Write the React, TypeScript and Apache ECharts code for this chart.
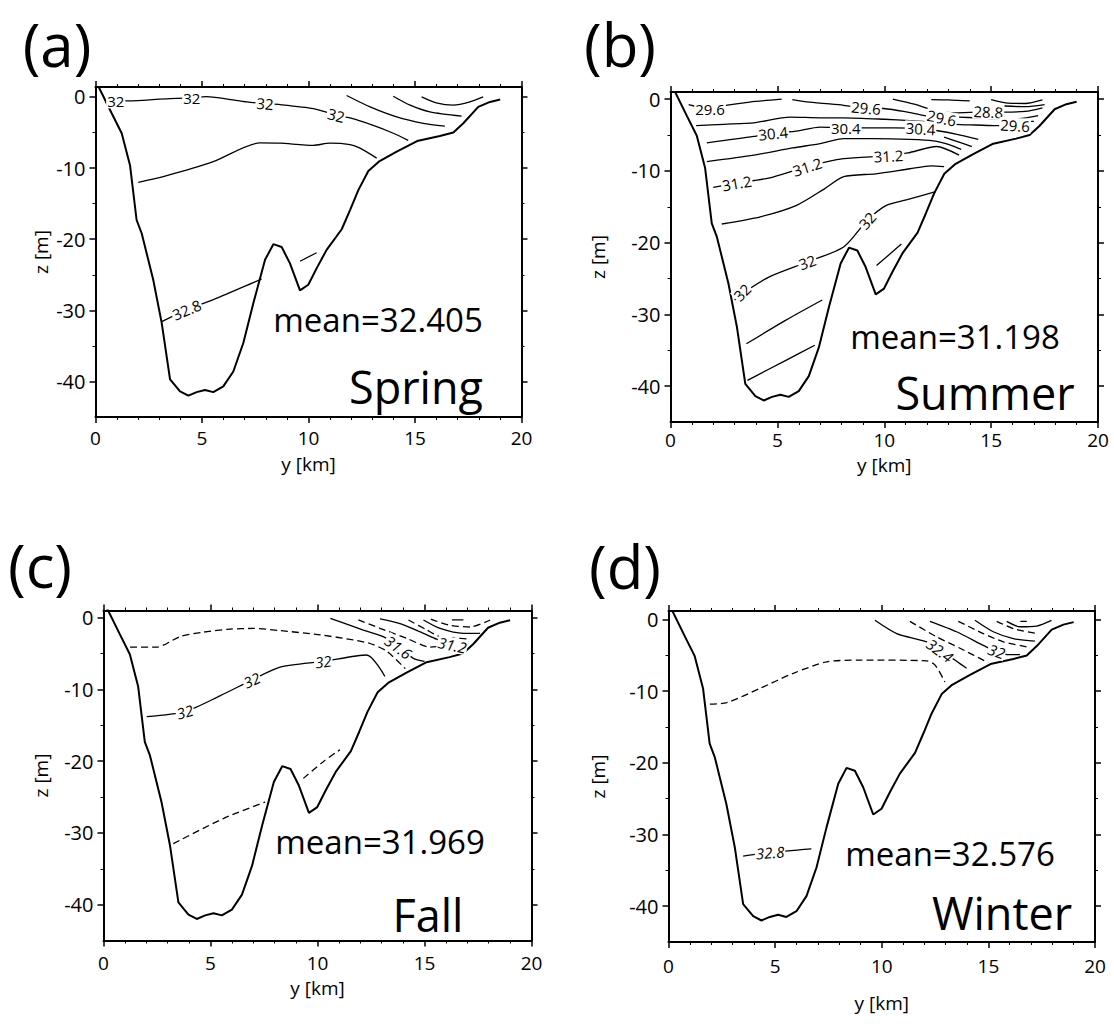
import React, { useEffect, useRef } from "react";
import * as echarts from "echarts";

const FONT = '"Open Sans", "Noto Sans", sans-serif';

// x ticks / y ticks
const xMin = 0;
const xMax = 20;
const xInterval = 5;
const yMin = -45;
const yMajorTicks = [0, -10, -20, -30, -40];
const yMinorTicks = [-5, -15, -25, -35];

const panelLetters = ["(a)", "(b)", "(c)", "(d)"];
const seasons = ["Spring", "Summer", "Fall", "Winter"];
const means = ["mean=32.405", "mean=31.198", "mean=31.969", "mean=32.576"];

// bathymetry (y [km], z [m])
const bathymetry = [
  [0.15, 1.4], [0.76, -2.3], [1.23, -5.1], [1.62, -9.6], [1.93, -17.3], [2.17, -19.2],
  [2.71, -25.7], [3.11, -31.8], [3.5, -39.7], [3.97, -41.4], [4.36, -42.0], [4.75, -41.5],
  [5.14, -41.2], [5.53, -41.5], [6.0, -40.7], [6.47, -38.6], [6.94, -34.6], [7.41, -29.0],
  [7.96, -22.9], [8.35, -20.7], [8.74, -21.1], [9.13, -23.4], [9.6, -27.2], [9.99, -26.4],
  [10.38, -24.1], [10.85, -21.5], [11.56, -18.6], [11.95, -15.9], [12.34, -13.1], [12.81, -10.4],
  [13.3, -9.1], [14.14, -7.7], [15.1, -6.2], [16.17, -5.5], [16.8, -5.0], [17.27, -3.7],
  [17.97, -1.4], [18.52, -0.7], [19.0, -0.35],
];

// (a) Spring
const springSolid = [
  [[0.7, -0.55], [1.62, -0.56], [3.0, -0.3], [3.81, -0.2], [4.5, -0.1], [5.22, 0.05], [6.2, -0.3], [7.1, -0.7], [7.96, -0.93], [8.66, -1.07], [10.23, -1.63], [11.0, -2.3], [11.4, -2.7], [11.95, -2.95], [13.04, -4.0], [13.98, -5.1], [14.68, -6.1]],
  [[11.79, 0.2], [12.89, -1.4], [14.14, -2.8], [15.39, -3.7], [16.4, -4.1]],
  [[13.98, 0.1], [14.77, -1.16], [15.7, -2.1], [17.19, -2.7]],
  [[15.31, 0.0], [16.0, -0.84], [16.8, -1.16], [17.58, -0.7], [18.2, 0.0]],
  [[2.01, -12.0], [3.18, -11.2], [5.53, -9.1], [7.72, -6.45], [8.66, -6.5], [10.23, -6.8], [11.0, -6.5], [11.95, -6.7], [12.42, -7.2], [13.2, -8.6]],
  [[3.11, -31.6], [4.28, -29.9], [5.53, -28.5], [7.57, -25.9], [7.8, -25.6]],
  [[9.6, -23.1], [10.38, -21.9]],
];
const springDashed: number[][][] = [];
const springLabels = [
  [0.95, -0.56, "32", 0], [4.52, -0.12, "32", 0], [7.96, -0.93, "32", -5], [11.3, -2.55, "32", -14], [4.28, -29.9, "32.8", 23],
];

// (b) Summer
const summerSolid = [
  [[0.85, -0.75], [1.85, -1.35], [2.5, -0.9], [3.7, -0.4], [5.2, 0.0]],
  [[5.7, -0.05], [6.5, -0.4], [8.1, -0.85], [9.15, -1.2], [9.96, -1.3], [10.9, -1.7], [11.9, -2.3], [12.69, -2.6]],
  [[1.2, -3.7], [2.5, -3.5], [3.9, -3.3], [5.6, -2.5], [7.0, -2.6], [8.1, -2.6], [10.0, -2.8], [11.2, -3.0], [12.2, -3.2], [13.3, -3.5], [14.3, -3.6], [15.3, -3.7], [16.12, -3.7], [16.7, -3.6]],
  [[1.7, -6.1], [3.9, -5.2], [4.8, -4.7], [5.8, -4.5], [7.0, -3.9], [8.2, -4.0], [9.5, -4.0], [10.5, -4.0], [11.7, -4.1], [12.5, -4.4], [13.4, -4.9], [14.4, -5.6]],
  [[1.7, -8.7], [3.9, -7.8], [5.7, -6.8], [7.0, -6.2], [8.1, -5.5], [9.5, -5.5], [11.2, -5.6], [12.3, -5.8], [13.0, -6.3], [13.6, -7.0]],
  [[2.0, -12.3], [3.1, -11.7], [4.6, -11.0], [6.4, -9.4], [8.1, -8.3], [10.2, -7.9], [11.1, -7.5], [12.45, -6.6], [13.5, -7.8]],
  [[2.4, -17.4], [4.2, -16.4], [5.9, -14.8], [7.2, -12.5], [8.1, -10.8], [9.6, -10.4], [11.2, -9.7], [12.2, -9.3], [12.8, -9.4]],
  [[3.0, -28.0], [3.4, -27.0], [4.6, -24.8], [6.4, -22.7], [8.1, -20.6], [9.2, -16.9], [10.1, -14.8], [11.2, -13.9], [12.4, -12.9]],
  [[3.55, -34.1], [5.4, -30.8], [7.1, -28.0]],
  [[3.6, -39.2], [5.4, -36.4], [6.75, -34.3]],
  [[9.64, -23.2], [10.8, -20.2]],
  [[10.4, 0.0], [11.4, -0.7], [12.3, -1.5], [13.3, -1.9], [14.3, -1.8], [14.87, -1.75], [15.5, -1.8], [16.6, -1.7], [17.4, -1.2]],
  [[12.2, -0.05], [13.0, -0.1], [14.0, -0.25]],
  [[15.0, -0.05], [15.8, -0.55], [16.6, -0.6], [17.4, -0.1]],
  [[15.6, -0.95], [16.6, -1.05], [17.5, -0.75]],
  [[13.5, -2.5], [14.3, -2.6], [15.3, -2.7], [16.3, -2.7], [17.2, -2.3]],
  [[12.8, -5.3], [13.5, -6.0], [14.1, -6.6]],
  [[16.75, -3.1], [17.0, -3.1]],
];
const summerDashed: number[][][] = [];
const summerLabels = [
  [1.85, -1.4, "29.6", 0], [9.15, -1.2, "29.6", -5], [12.69, -2.6, "29.6", -12], [14.87, -1.75, "28.8", -3],
  [16.12, -3.65, "29.6", -3], [4.8, -4.75, "30.4", 6], [8.2, -4.0, "30.4", 0], [11.7, -4.1, "30.4", -3],
  [3.1, -11.7, "31.2", 10], [6.4, -9.4, "31.2", 18], [10.2, -7.9, "31.2", 3],
  [3.35, -26.9, "32", 45], [6.4, -22.7, "32", 20], [9.2, -16.9, "32", 48],
];

// (c) Fall
const fallSolid = [
  [[10.6, -0.09], [12.14, -1.72], [13.07, -2.65], [13.78, -4.0], [14.48, -5.67], [15.0, -6.1]],
  [[12.92, -0.18], [13.93, -0.9], [14.95, -2.18], [15.57, -3.0], [16.0, -3.4]],
  [[14.95, -0.32], [15.73, -1.5], [16.82, -2.18], [17.6, -2.18]],
  [[16.28, -0.3], [16.82, -0.3]],
  [[2.02, -13.8], [3.8, -13.1], [5.44, -10.9], [6.93, -8.7], [8.25, -6.9], [10.27, -6.1], [12.3, -5.2], [13.15, -8.2]],
];
const fallDashed = [
  [[1.24, -4.1], [2.49, -4.1], [3.57, -2.65], [4.7, -2.0], [5.91, -1.6], [7.0, -1.5], [8.25, -1.8], [10.12, -2.4], [11.67, -3.1], [12.45, -3.6], [13.2, -4.6], [14.1, -7.1]],
  [[11.91, -0.32], [12.92, -1.48], [14.17, -2.88], [15.26, -4.1], [15.9, -3.95]],
  [[14.25, -0.32], [15.11, -1.72], [15.73, -2.65], [16.2, -2.8], [17.13, -3.0]],
  [[15.3, -0.2], [16.12, -1.02], [17.13, -1.3], [18.07, -0.32]],
  [[3.26, -31.5], [5.6, -28.0], [7.55, -25.7]],
  [[9.34, -22.4], [10.3, -20.0], [11.05, -18.4]],
];
const fallLabels = [
  [3.8, -13.1, "32", 16], [6.93, -8.7, "32", 25], [10.27, -6.1, "32", 8], [13.78, -4.1, "31.6", -36], [16.3, -3.8, "31.2", -12],
];

// (d) Winter
const winterSolid = [
  [[3.5, -33.0], [4.76, -32.5], [6.7, -32.0]],
  [[9.68, -0.1], [10.7, -1.95], [12.1, -3.1], [12.73, -4.2], [13.43, -5.65], [13.98, -6.8]],
  [[12.26, -0.24], [13.51, -1.7], [14.76, -3.6], [15.39, -4.5], [16.0, -4.9], [16.48, -4.9]],
  [[14.37, -0.1], [15.23, -1.7], [16.17, -2.65], [17.18, -3.0]],
  [[15.86, -0.24], [16.48, -1.0], [17.26, -0.9], [17.96, -0.1]],
];
const winterDashed = [
  [[1.94, -11.8], [2.73, -11.6], [4.29, -9.6], [5.85, -7.5], [7.42, -5.9], [8.98, -5.65], [12.1, -5.75], [12.5, -6.35], [12.96, -8.7]],
  [[11.32, -0.24], [12.57, -2.4], [13.67, -4.0], [14.99, -6.0]],
  [[13.59, -0.24], [14.76, -1.95], [15.7, -3.1], [16.8, -3.8]],
  [[15.39, -0.24], [16.17, -1.25], [17.26, -1.95]],
  [[16.5, -0.24], [16.8, -0.24]],
];
const winterLabels = [
  [4.76, -32.5, "32.8", 4], [12.73, -4.3, "32.4", -36], [15.39, -4.4, "32", -20],
];

const panelData = [
  { solid: springSolid, dashed: springDashed, labels: springLabels },
  { solid: summerSolid, dashed: summerDashed, labels: summerLabels },
  { solid: fallSolid, dashed: fallDashed, labels: fallLabels },
  { solid: winterSolid, dashed: winterDashed, labels: winterLabels },
];

// layout (pixels)
const layout = [
  { left: 95.5, top: 87, width: 426, height: 330, ymax: 1.4, xMargin: 11, xGap: 37, yGap: 45, letter: [57, 44], mean: [378, 319], season: [416, 386], italic: false },
  { left: 670.5, top: 92, width: 427.5, height: 330, ymax: 1.0, xMargin: 8, xGap: 33, yGap: 63, letter: [620, 44], mean: [955, 336], season: [985, 392], italic: false },
  { left: 103.5, top: 610.5, width: 428, height: 330, ymax: 1.0, xMargin: 13, xGap: 38, yGap: 53, letter: [40, 565], mean: [380, 841], season: [428, 914], italic: true },
  { left: 668.5, top: 611, width: 426.5, height: 331, ymax: 1.2, xMargin: 14, xGap: 51, yGap: 61, letter: [625, 566], mean: [950, 853], season: [1002, 912], italic: true },
];

const black = "#000";

function buildOption() {
  const grid: any[] = [];
  const xAxis: any[] = [];
  const yAxis: any[] = [];
  const series: any[] = [];
  const graphic: any[] = [];

  layout.forEach((L, i) => {
    grid.push({ left: L.left, top: L.top, width: L.width, height: L.height, containLabel: false, outerBoundsMode: "none", show: false });
    const xBase = (pos: string) => ({
      gridIndex: i,
      type: "value",
      position: pos,
      min: xMin,
      max: xMax,
      interval: xInterval,
      axisLine: { show: true, onZero: false, lineStyle: { color: black, width: 2 } },
      axisTick: { show: true, inside: false, length: 6, lineStyle: { color: black, width: 1.5 } },
      minorTick: { show: true, splitNumber: 5, length: 3, lineStyle: { color: black, width: 1 } },
      splitLine: { show: false },
      minorSplitLine: { show: false },
      axisLabel: { show: pos === "bottom", margin: L.xMargin, fontSize: 19, color: black, fontFamily: FONT, showMinLabel: true, showMaxLabel: true },
      name: pos === "bottom" ? "y [km]" : "",
      nameLocation: "middle",
      nameGap: L.xGap,
      nameMoveOverlap: false,
      nameTextStyle: { fontSize: 19, color: black, fontFamily: FONT },
    });
    xAxis.push(xBase("bottom"));
    xAxis.push(xBase("top"));
    const yBase = (pos: string, major: boolean) => ({
      gridIndex: i,
      type: "value",
      position: pos,
      min: yMin,
      max: L.ymax,
      axisLine: { show: major, onZero: false, lineStyle: { color: black, width: 2 } },
      axisTick: { show: true, inside: false, length: major ? 6 : 3, customValues: major ? yMajorTicks : yMinorTicks, lineStyle: { color: black, width: major ? 1.5 : 1 } },
      axisLabel: { show: major && pos === "left", customValues: major ? yMajorTicks : yMinorTicks, margin: 10, fontSize: 20, color: black, fontFamily: FONT },
      splitLine: { show: false },
      name: major && pos === "left" ? "z [m]" : "",
      nameLocation: "middle",
      nameRotate: 90,
      nameGap: L.yGap,
      nameMoveOverlap: false,
      nameTextStyle: { fontSize: 19, color: black, fontFamily: FONT },
    });
    yAxis.push(yBase("left", true));
    yAxis.push(yBase("left", false));
    yAxis.push(yBase("right", true));
    yAxis.push(yBase("right", false));

    const xi = 2 * i;
    const yi = 4 * i;
    series.push({
      type: "line", xAxisIndex: xi, yAxisIndex: yi, data: bathymetry, symbol: "none", smooth: false,
      lineStyle: { color: black, width: 2 }, silent: true, z: 4,
    });
    const P = panelData[i];
    P.solid.forEach((pts) => {
      series.push({
        type: "line", xAxisIndex: xi, yAxisIndex: yi, data: pts, symbol: "none", smooth: 0.25,
        lineStyle: { color: black, width: 1.3 }, silent: true, z: 3,
      });
    });
    P.dashed.forEach((pts) => {
      series.push({
        type: "line", xAxisIndex: xi, yAxisIndex: yi, data: pts, symbol: "none", smooth: 0.25,
        lineStyle: { color: black, width: 1.3, type: [7, 4] }, silent: true, z: 3,
      });
    });
    series.push({
      type: "scatter", xAxisIndex: xi, yAxisIndex: yi, symbolSize: 0, silent: true, z: 10,
      itemStyle: { color: black, opacity: 1 },
      data: P.labels.map((l: any) => ({
        value: [l[0], l[1]],
        label: { formatter: String(l[2]), rotate: l[3] },
      })),
      label: {
        show: true, position: "inside", fontSize: 15, color: black, fontFamily: FONT,
        fontStyle: L.italic ? "italic" : "normal",
        textBorderWidth: 0,
        backgroundColor: "#fff", padding: [0, 1],
      },
    });

    graphic.push({
      type: "text", x: L.letter[0], y: L.letter[1], silent: true, z: 100,
      style: { text: panelLetters[i], fontSize: 60, fontFamily: FONT, fill: black, align: "center", verticalAlign: "middle" },
    });
    graphic.push({
      type: "text", x: L.mean[0], y: L.mean[1], silent: true, z: 100,
      style: { text: means[i], fontSize: 33, fontFamily: FONT, fill: black, align: "center", verticalAlign: "middle" },
    });
    graphic.push({
      type: "text", x: L.season[0], y: L.season[1], silent: true, z: 100,
      style: { text: seasons[i], fontSize: 45, fontFamily: FONT, fill: black, align: "center", verticalAlign: "middle" },
    });
  });

  return {
    animation: false,
    backgroundColor: "#fff",
    grid,
    xAxis,
    yAxis,
    series,
    graphic,
  };
}

export default function App() {
  const ref = useRef<HTMLDivElement>(null);
  useEffect(() => {
    if (!ref.current) return;
    const chart = echarts.init(ref.current, undefined, { renderer: "svg" });
    chart.setOption(buildOption() as any);
    return () => chart.dispose();
  }, []);
  return (
    <div
      ref={ref}
      style={{ position: "absolute", left: 0, top: 0, width: 1114, height: 1026, background: "#fff" }}
    />
  );
}
